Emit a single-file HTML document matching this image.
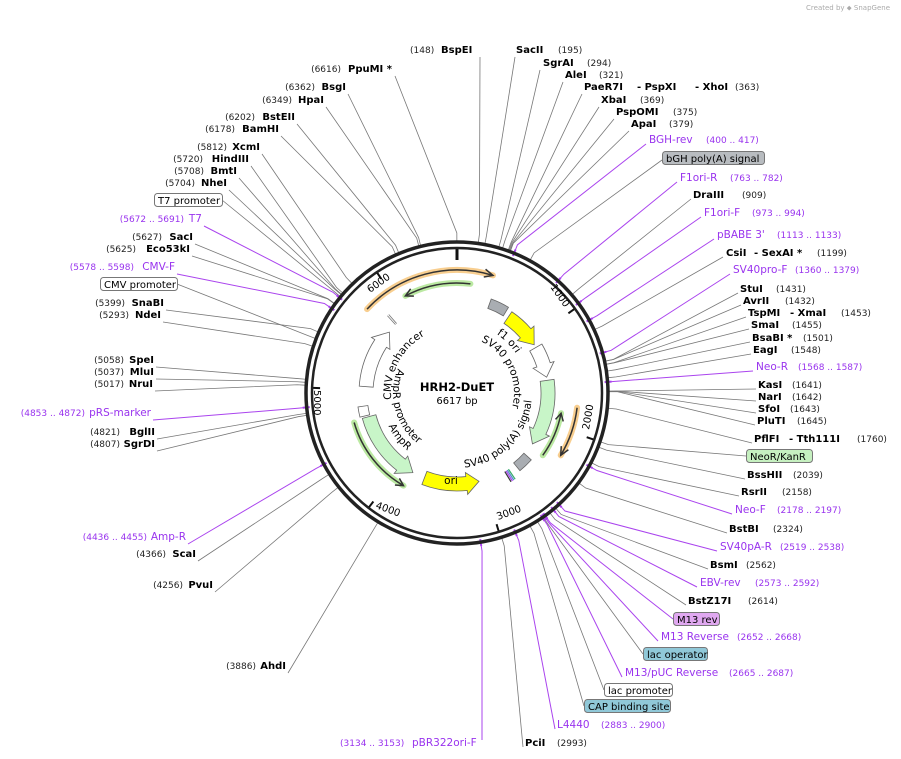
<!DOCTYPE html>
<html><head><meta charset="utf-8"><style>
html,body{margin:0;padding:0;background:#fff;}
svg{display:block;font-family:"DejaVu Sans","Liberation Sans",sans-serif;}
.n{font-size:9px;fill:#222;}
.b{font-size:10px;font-weight:bold;fill:#000;}
.p{font-size:10.5px;fill:#9933ee;}
.pn{font-size:9px;fill:#9933ee;}
.f{font-size:10px;fill:#000;}
.il{font-size:10.5px;fill:#000;}
</style></head><body>
<svg id="s" width="901" height="759" viewBox="0 0 901 759" xmlns="http://www.w3.org/2000/svg" xmlns:xlink="http://www.w3.org/1999/xlink">
<defs>
<path id="pCMV" d="" fill="none"/>
<path id="pAPR" d="" fill="none"/>
<path id="pAMP" d="" fill="none"/>
<path id="pF1" d="" fill="none"/>
<path id="pSVP" d="" fill="none"/>
<path id="pSVA" d="" fill="none"/>
</defs>
<g id="lines"></g>
<g id="feat"></g>
<circle cx="457" cy="393" r="151" fill="none" stroke="#222" stroke-width="3.5"/>
<circle cx="457" cy="393" r="145" fill="none" stroke="#222" stroke-width="2.5"/>
<g id="ticks"></g>
<text x="890" y="10" font-size="7" fill="#aaa" text-anchor="end">Created by ⬥ SnapGene</text>
<text x="457" y="391" text-anchor="middle" font-size="11.5" font-weight="bold">HRH2-DuET</text>
<text x="457" y="404" text-anchor="middle" font-size="10">6617 bp</text>
<!-- inner curved labels -->
<text class="il"><textPath href="#pCMV" xlink:href="#pCMV" startOffset="50%" text-anchor="middle">CMV enhancer</textPath></text>
<text class="il"><textPath href="#pAPR" xlink:href="#pAPR" startOffset="50%" text-anchor="middle">AmpR promoter</textPath></text>
<text class="il"><textPath href="#pAMP" xlink:href="#pAMP" startOffset="50%" text-anchor="middle">AmpR</textPath></text>
<text class="il"><textPath href="#pF1" xlink:href="#pF1" startOffset="50%" text-anchor="middle">f1 ori</textPath></text>
<text class="il"><textPath href="#pSVP" xlink:href="#pSVP" startOffset="50%" text-anchor="middle">SV40 promoter</textPath></text>
<text class="il"><textPath href="#pSVA" xlink:href="#pSVA" startOffset="50%" text-anchor="middle">SV40 poly(A) signal</textPath></text>
<text x="451" y="484" font-size="10.5" text-anchor="middle">ori</text>
<!-- tick labels -->
<text transform="translate(370,293) rotate(-35)" font-size="10">6000</text>
<text transform="translate(550,287) rotate(55)" font-size="10">1000</text>
<text transform="translate(589,430) rotate(-80)" font-size="10">2000</text>
<text transform="translate(498,520) rotate(-20)" font-size="10">3000</text>
<text transform="translate(375,508) rotate(20)" font-size="10">4000</text>
<text transform="translate(314,390) rotate(90)" font-size="10">5000</text>

<!-- right labels -->
<text x="410" y="53" class="n">(148)</text><text x="441" y="53" class="b">BspEI</text>
<text x="516" y="53" class="b">SacII</text><text x="558" y="53" class="n">(195)</text>
<text x="543" y="66" class="b">SgrAI</text><text x="587" y="66" class="n">(294)</text>
<text x="565" y="78" class="b">AleI</text><text x="599" y="78" class="n">(321)</text>
<text x="584" y="90" class="b">PaeR7I</text><text x="637" y="90" class="b">- PspXI</text><text x="695" y="90" class="b">- XhoI</text><text x="735" y="90" class="n">(363)</text>
<text x="601" y="103" class="b">XbaI</text><text x="640" y="103" class="n">(369)</text>
<text x="616" y="115" class="b">PspOMI</text><text x="673" y="115" class="n">(375)</text>
<text x="631" y="127" class="b">ApaI</text><text x="669" y="127" class="n">(379)</text>
<text x="649" y="143" class="p">BGH-rev</text><text x="706" y="143" class="pn">(400 .. 417)</text>
<rect x="662.5" y="151.5" width="102" height="13" rx="3" fill="#b8bcc0" stroke="#777"/><text x="666" y="162" class="f">bGH poly(A) signal</text>
<text x="680" y="181" class="p">F1ori-R</text><text x="730" y="181" class="pn">(763 .. 782)</text>
<text x="693" y="198" class="b">DraIII</text><text x="742" y="198" class="n">(909)</text>
<text x="704" y="216" class="p">F1ori-F</text><text x="752" y="216" class="pn">(973 .. 994)</text>
<text x="717" y="238" class="p">pBABE 3'</text><text x="777" y="238" class="pn">(1113 .. 1133)</text>
<text x="726" y="256" class="b">CsiI</text><text x="754" y="256" class="b">- SexAI *</text><text x="817" y="256" class="n">(1199)</text>
<text x="733" y="273" class="p">SV40pro-F</text><text x="795" y="273" class="pn">(1360 .. 1379)</text>
<text x="740" y="292" class="b">StuI</text><text x="776" y="292" class="n">(1431)</text>
<text x="743" y="304" class="b">AvrII</text><text x="785" y="304" class="n">(1432)</text>
<text x="748" y="316" class="b">TspMI</text><text x="790" y="316" class="b">- XmaI</text><text x="841" y="316" class="n">(1453)</text>
<text x="751" y="328" class="b">SmaI</text><text x="792" y="328" class="n">(1455)</text>
<text x="752" y="341" class="b">BsaBI *</text><text x="803" y="341" class="n">(1501)</text>
<text x="753" y="353" class="b">EagI</text><text x="791" y="353" class="n">(1548)</text>
<text x="756" y="370" class="p">Neo-R</text><text x="798" y="370" class="pn">(1568 .. 1587)</text>
<text x="758" y="388" class="b">KasI</text><text x="792" y="388" class="n">(1641)</text>
<text x="758" y="400" class="b">NarI</text><text x="792" y="400" class="n">(1642)</text>
<text x="758" y="412" class="b">SfoI</text><text x="790" y="412" class="n">(1643)</text>
<text x="757" y="424" class="b">PluTI</text><text x="797" y="424" class="n">(1645)</text>
<text x="754" y="442" class="b">PflFI</text><text x="789" y="442" class="b">- Tth111I</text><text x="857" y="442" class="n">(1760)</text>
<rect x="746.5" y="449.5" width="66" height="13" rx="3" fill="#c6f0c0" stroke="#777"/><text x="750" y="460" class="f">NeoR/KanR</text>
<text x="747" y="478" class="b">BssHII</text><text x="793" y="478" class="n">(2039)</text>
<text x="741" y="495" class="b">RsrII</text><text x="782" y="495" class="n">(2158)</text>
<text x="735" y="513" class="p">Neo-F</text><text x="777" y="513" class="pn">(2178 .. 2197)</text>
<text x="729" y="532" class="b">BstBI</text><text x="773" y="532" class="n">(2324)</text>
<text x="720" y="550" class="p">SV40pA-R</text><text x="780" y="550" class="pn">(2519 .. 2538)</text>
<text x="710" y="568" class="b">BsmI</text><text x="746" y="568" class="n">(2562)</text>
<text x="700" y="586" class="p">EBV-rev</text><text x="755" y="586" class="pn">(2573 .. 2592)</text>
<text x="688" y="604" class="b">BstZ17I</text><text x="748" y="604" class="n">(2614)</text>
<rect x="673.5" y="612.5" width="46" height="13" rx="3" fill="#e0a8f0" stroke="#777"/><text x="677" y="623" class="f">M13 rev</text>
<text x="661" y="640" class="p">M13 Reverse</text><text x="737" y="640" class="pn">(2652 .. 2668)</text>
<rect x="643.5" y="647.5" width="64" height="13" rx="3" fill="#90c8d8" stroke="#777"/><text x="647" y="658" class="f">lac operator</text>
<text x="625" y="676" class="p">M13/pUC Reverse</text><text x="729" y="676" class="pn">(2665 .. 2687)</text>
<rect x="604.5" y="683.5" width="68" height="13" rx="3" fill="#fff" stroke="#777"/><text x="608" y="694" class="f">lac promoter</text>
<rect x="584.5" y="699.5" width="86" height="13" rx="3" fill="#90c8d8" stroke="#777"/><text x="588" y="710" class="f">CAP binding site</text>
<text x="557" y="728" class="p">L4440</text><text x="601" y="728" class="pn">(2883 .. 2900)</text>
<text x="525" y="746" class="b">PciI</text><text x="557" y="746" class="n">(2993)</text>
<text x="340" y="746" class="pn">(3134 .. 3153)</text><text x="412" y="746" class="p">pBR322ori-F</text>

<!-- left labels -->
<g text-anchor="end">
<text x="392" y="72" class="b">PpuMI *</text><text x="341" y="72" class="n">(6616)</text>
<text x="346" y="90" class="b">BsgI</text><text x="315" y="90" class="n">(6362)</text>
<text x="324" y="103" class="b">HpaI</text><text x="292" y="103" class="n">(6349)</text>
<text x="295" y="120" class="b">BstEII</text><text x="255" y="120" class="n">(6202)</text>
<text x="279" y="132" class="b">BamHI</text><text x="235" y="132" class="n">(6178)</text>
<text x="260" y="150" class="b">XcmI</text><text x="227" y="150" class="n">(5812)</text>
<text x="249" y="162" class="b">HindIII</text><text x="203" y="162" class="n">(5720)</text>
<text x="237" y="174" class="b">BmtI</text><text x="204" y="174" class="n">(5708)</text>
<text x="227" y="186" class="b">NheI</text><text x="195" y="186" class="n">(5704)</text>
<text x="202" y="222" class="p">T7</text><text x="184" y="222" class="pn">(5672 .. 5691)</text>
<text x="193" y="240" class="b">SacI</text><text x="162" y="240" class="n">(5627)</text>
<text x="190" y="252" class="b">Eco53kI</text><text x="136" y="252" class="n">(5625)</text>
<text x="175" y="270" class="p">CMV-F</text><text x="134" y="270" class="pn">(5578 .. 5598)</text>
<text x="164" y="306" class="b">SnaBI</text><text x="125" y="306" class="n">(5399)</text>
<text x="161" y="318" class="b">NdeI</text><text x="129" y="318" class="n">(5293)</text>
<text x="154" y="363" class="b">SpeI</text><text x="124" y="363" class="n">(5058)</text>
<text x="154" y="375" class="b">MluI</text><text x="124" y="375" class="n">(5037)</text>
<text x="153" y="387" class="b">NruI</text><text x="124" y="387" class="n">(5017)</text>
<text x="151" y="416" class="p">pRS-marker</text><text x="85" y="416" class="pn">(4853 .. 4872)</text>
<text x="155" y="435" class="b">BglII</text><text x="120" y="435" class="n">(4821)</text>
<text x="155" y="447" class="b">SgrDI</text><text x="120" y="447" class="n">(4807)</text>
<text x="186" y="540" class="p">Amp-R</text><text x="147" y="540" class="pn">(4436 .. 4455)</text>
<text x="196" y="557" class="b">ScaI</text><text x="166" y="557" class="n">(4366)</text>
<text x="213" y="588" class="b">PvuI</text><text x="183" y="588" class="n">(4256)</text>
<text x="286" y="669" class="b">AhdI</text><text x="256" y="669" class="n">(3886)</text>
</g>
<rect x="154.5" y="193.5" width="68" height="13" rx="3" fill="#fff" stroke="#777"/><text x="158" y="204" class="f">T7 promoter</text>
<rect x="100.5" y="277.5" width="77" height="13" rx="3" fill="#fff" stroke="#777"/><text x="104" y="288" class="f">CMV promoter</text>
</svg>
<script>
(function(){
var NS="http://www.w3.org/2000/svg",CX=457,CY=393,T=6617;
function pt(bp,r){var a=bp/T*2*Math.PI;return [CX+r*Math.sin(a),CY-r*Math.cos(a)];}
function P2(a,r){return [CX+r*Math.sin(a*Math.PI/180),CY-r*Math.cos(a*Math.PI/180)];}
function el(tag,at,par){var e=document.createElementNS(NS,tag);for(var k in at)e.setAttribute(k,at[k]);document.getElementById(par).appendChild(e);return e;}
function arcPath(a1,a2,r){var s=P2(a1,r),e=P2(a2,r);
 var sw=a2>a1?1:0,lg=Math.abs(a2-a1)>180?1:0;return "M"+s[0]+","+s[1]+" A"+r+","+r+" 0 "+lg+" "+sw+" "+e[0]+","+e[1];}
// text paths
document.getElementById("pCMV").setAttribute("d",arcPath(250,345,66));
document.getElementById("pAPR").setAttribute("d",arcPath(310,200,64));
document.getElementById("pAMP").setAttribute("d",arcPath(260,205,76));
document.getElementById("pF1").setAttribute("d",arcPath(20,70,71));
document.getElementById("pSVP").setAttribute("d",arcPath(10,120,57));
document.getElementById("pSVA").setAttribute("d",arcPath(200,70,75));
var G="#777",P="#aa44ee";
var L=[[148,480,57,G],[195,515,57,G],[294,540,70,G],[321,563,82,G],[363,582,94,G],[369,599,107,G],[375,614,119,G],[379,629,131,G],
[408,646,144,P],[530,662,160,G],[772,677,182,P],[909,691,199,G],[983,701,217,P],[1123,714,239,P],[1199,723,257,G],[1370,730,274,P],
[1431,738,293,G],[1432,741,305,G],[1453,746,317,G],[1455,749,329,G],[1501,750,342,G],[1548,751,354,G],[1577,753,371,P],
[1641,756,389,G],[1642,756,401,G],[1643,756,413,G],[1645,755,425,G],[1760,752,443,G],[2000,746,456,G],[2039,745,479,G],[2158,739,496,G],
[2187,732,514,P],[2324,727,533,G],[2528,717,551,P],[2562,708,569,G],[2582,697,587,P],[2614,686,605,G],[2652,673,619,P],[2660,658,641,P],
[2670,643,654,G],[2676,622,677,P],[2720,604,690,G],[2780,584,706,G],[2891,555,729,P],[2993,523,747,G],[3143,482,740,P],
[6616,395,76,G],[6362,348,94,G],[6349,326,107,G],[6202,297,124,G],[6178,281,136,G],[5812,262,154,G],[5720,251,166,G],[5708,239,178,G],[5704,229,190,G],
[5690,222,200,G],[5681,204,226,P],[5627,195,244,G],[5625,192,256,G],[5588,177,274,P],[5350,177,284,G],[5399,166,310,G],[5293,163,322,G],
[5058,156,367,G],[5037,156,379,G],[5017,155,391,G],[4862,153,420,P],[4821,157,439,G],[4807,157,451,G],[4445,188,544,P],[4366,198,561,G],[4256,215,592,G],[3886,288,673,G]];
L.forEach(function(d){var a=pt(d[0],152),b=pt(d[0],160);
 el("polyline",{points:a[0]+","+a[1]+" "+b[0]+","+b[1]+" "+d[1]+","+d[2],fill:"none",stroke:d[3],"stroke-width":d[3]==P?1:0.8},"lines");
 if(d[3]==P){var c=pt(d[0],155),e=pt(d[0],148);el("line",{x1:c[0],y1:c[1],x2:e[0],y2:e[1],stroke:P,"stroke-width":2},"lines");}
});
[0,1000,2000,3000,4000,5000,6000].forEach(function(bp){var a=pt(bp,144),b=pt(bp,bp==0?133:137);
 el("line",{x1:a[0],y1:a[1],x2:b[0],y2:b[1],stroke:"#111","stroke-width":bp==0?3:2},"ticks");});
function thinArrow(a1,a2,r,col){
 el("path",{d:arcPath(a1,a2,r),fill:"none",stroke:col,"stroke-width":6,"stroke-linecap":"round",opacity:0.7},"feat");
 el("path",{d:arcPath(a1,a2,r),fill:"none",stroke:"#333","stroke-width":1.5},"feat");
 var dir=a2>a1?1:-1,t=P2(a2,r),b1=P2(a2-dir*4,r+4),b2=P2(a2-dir*4,r-4);
 el("polyline",{points:b1+" "+t+" "+b2,fill:"none",stroke:"#333","stroke-width":1.5},"feat");}
thinArrow(-47,17,123,"#f5b960");
thinArrow(7,-28,110,"#9ee07a");
thinArrow(97,121,121,"#f5b960");
thinArrow(126,101,106,"#9ee07a");
thinArrow(-106,-150,107,"#9ee07a");
function fat(a1,a2,r1,r2,fill,head){
 var dir=a2>a1?1:-1,ah=a2-dir*head,rm=(r1+r2)/2;
 var p1=P2(a1,r1),p2=P2(ah,r1),p3=P2(ah,r1+4),tip=P2(a2,rm),p4=P2(ah,r2-4),p5=P2(ah,r2),p6=P2(a1,r2);
 var sw=dir>0?1:0,sw2=dir>0?0:1;
 var d="M"+p1+" A"+r1+","+r1+" 0 0 "+sw+" "+p2+" L"+p3+" L"+tip+" L"+p4+" L"+p5+" A"+r2+","+r2+" 0 0 "+sw2+" "+p6+" Z";
 el("path",{d:d,fill:fill,stroke:"#666","stroke-width":0.8},"feat");}
function box(a1,a2,r1,r2,fill){var p1=P2(a1,r1),p2=P2(a2,r1),p3=P2(a2,r2),p4=P2(a1,r2);
 el("path",{d:"M"+p1+" A"+r1+","+r1+" 0 0 1 "+p2+" L"+p3+" A"+r2+","+r2+" 0 0 0 "+p4+" Z",fill:fill,stroke:"#666","stroke-width":0.8},"feat");}
box(20,31,100,90,"#a9adb2");
fat(34,58,98,84,"yellow",9);
fat(60,80,98,84,"#fff",8);
fat(82,124,98,84,"#c8f5c8",9);
box(132,141,100,90,"#a9adb2");
fat(201,166,98,84,"yellow",8);
fat(255,209,98,84,"#c8f5c8",9);
box(256,262,100,90,"#fff");
fat(274,312,98,84,"#fff",9);
[["#3a6",0],["#58c",1.5],["#a4e",3],["#333",4.5]].forEach(function(c){var a=P2(146+c[1]*0.6,104),b=P2(146+c[1]*0.6,92);
 el("line",{x1:a[0],y1:a[1],x2:b[0],y2:b[1],stroke:c[0],"stroke-width":1.2},"feat");});
// small double slashes near CMV enhancer
[0,2.5].forEach(function(o){var a=P2(318+o*0.4,92),b=P2(318+o*0.4,104);el("line",{x1:a[0],y1:a[1],x2:b[0],y2:b[1],stroke:"#777","stroke-width":0.8},"feat");});
})();
</script>
</body></html>
